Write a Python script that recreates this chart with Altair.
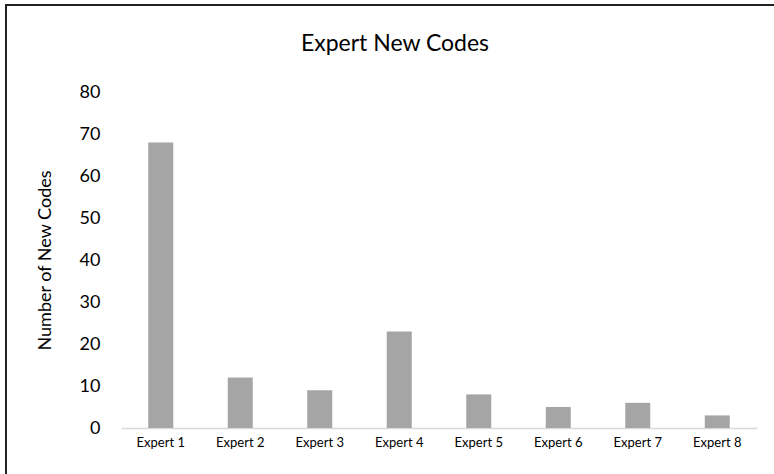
import altair as alt
import pandas as pd

experts = ["Expert 1", "Expert 2", "Expert 3", "Expert 4",
           "Expert 5", "Expert 6", "Expert 7", "Expert 8"]
new_codes = [68, 12, 9, 23, 8, 5, 6, 3]
y_ticks = [0, 10, 20, 30, 40, 50, 60, 70, 80]
chart_title = ["Expert New Codes"]

df = pd.DataFrame({"expert": experts, "codes": new_codes})

FONT = "Lato"

bars = alt.Chart(df).mark_bar(size=25, color="#a5a5a5").encode(
    x=alt.X("expert:N", sort=experts,
            scale=alt.Scale(paddingInner=0, paddingOuter=0),
            axis=alt.Axis(title=None, labelAngle=0, labelFontSize=13,
                          labelFont=FONT, labelColor="#000000",
                          labelPadding=8, ticks=False,
                          domainColor="#d9d9d9", domainWidth=1.5,
                          grid=False)),
    y=alt.Y("codes:Q",
            scale=alt.Scale(domain=[0, 80], nice=False),
            axis=alt.Axis(values=y_ticks, title="Number of New Codes",
                          titleFont=FONT, titleFontSize=18,
                          titleFontWeight="normal", titleColor="#000000",
                          titleAngle=-90, titleX=-76, titleY=168,
                          titleAlign="center", titleBaseline="middle",
                          labelFont=FONT, labelFontSize=18,
                          labelColor="#000000", labelPadding=21,
                          ticks=False, domain=False, grid=False)),
)

one = pd.DataFrame({"t": chart_title})

left_line = alt.Chart(one).mark_rule(color="#222222", strokeWidth=2).encode(
    x=alt.value(-115), y=alt.value(-87), y2=alt.value(400)
)
top_line = alt.Chart(one).mark_rule(color="#222222", strokeWidth=2).encode(
    x=alt.value(-116), x2=alt.value(700), y=alt.value(-87)
)

title = alt.Chart(one).mark_text(
    font=FONT, fontSize=23, color="#000000", align="center",
    baseline="alphabetic"
).encode(
    x=alt.value(274), y=alt.value(-41), text="t:N"
)

chart = alt.layer(left_line, top_line, title, bars).properties(
    width=636, height=336,
    autosize=alt.AutoSizeParams(type="none"),
    padding={"left": 121, "top": 92, "right": 17, "bottom": 46},
).configure(background="#ffffff").configure_view(stroke=None)

chart.save("out.html", embed_options={"renderer": "svg", "actions": False})
